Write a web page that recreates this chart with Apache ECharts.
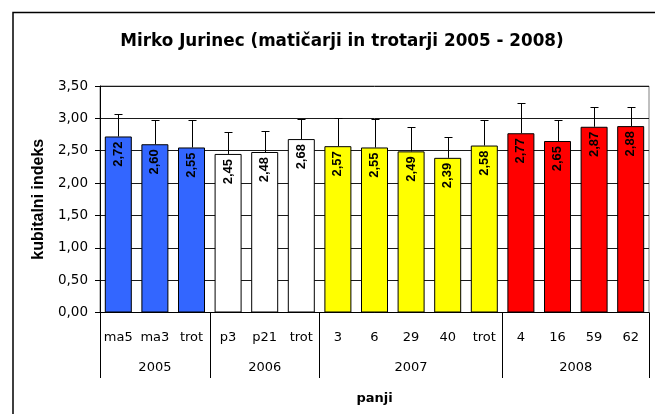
<!DOCTYPE html>
<html>
<head>
    <meta charset="utf-8">
    <title>Mirko Jurinec</title>
    <script src="https://cdn.jsdelivr.net/npm/echarts@6/dist/echarts.min.js"></script>
    <style>
        html, body { margin: 0; padding: 0; background: #ffffff; }
        #chart { width: 655px; height: 414px; }
    </style>
</head>
<body>
<div id="chart"></div>
<script>
    // podatki
    var panji = ['ma5', 'ma3', 'trot', 'p3', 'p21', 'trot', '3', '6', '29', '40', 'trot', '4', '16', '59', '62'];
    var leta = ['2005', '2006', '2007', '2008'];
    var stPanjev = [3, 3, 5, 4];          // koliko panjev v posameznem letu
    var barveLet = ['#3366FF', '#FFFFFF', '#FFFF00', '#FF0000'];
    var indeks = [2.72, 2.60, 2.55, 2.45, 2.48, 2.68, 2.57, 2.55, 2.49, 2.39, 2.58, 2.77, 2.65, 2.87, 2.88];
    var napaka = [0.34, 0.38, 0.43, 0.34, 0.33, 0.31, 0.44, 0.44, 0.37, 0.32, 0.40, 0.47, 0.33, 0.31, 0.30];
    var yTicks = [0, 0.5, 1, 1.5, 2, 2.5, 3, 3.5];

    var font = "'Liberation Sans', Arial, sans-serif";
    var siroka = "'DejaVu Sans', Verdana, sans-serif";   // sirsa pisava za vodoravna besedila

    // meje med leti in sredine skupin na drugi osi
    var meje = [0], sredine = [], barvePanjev = [];
    stPanjev.forEach(function (n, k) {
        var z = meje[meje.length - 1];
        sredine.push(z + n / 2);
        meje.push(z + n);
        for (var j = 0; j < n; j++) barvePanjev.push(barveLet[k]);
    });

    function vejica(v) {
        return v.toFixed(2).replace('.', ',');
    }

    var chart = echarts.init(document.getElementById('chart'), null, {renderer: 'canvas'});

    var option = {
        animation: false,
        backgroundColor: '#ffffff',
        textStyle: {fontFamily: siroka},
        title: {
            text: 'Mirko Jurinec (matičarji in trotarji 2005 - 2008)',
            left: 337, top: 28, textAlign: 'center',
            textStyle: {fontFamily: siroka, fontSize: 16.8, fontWeight: 'bold', color: '#000'}
        },
        graphic: [{
            type: 'rect',
            shape: {x: 13, y: 12.5, width: 700, height: 500},
            style: {fill: 'none', stroke: '#000', lineWidth: 1.5},
            silent: true
        }],
        grid: {
            left: 100, top: 86, width: 549, height: 226.5,
            show: true, borderColor: '#808080', borderWidth: 1, backgroundColor: '#fff'
        },
        xAxis: [{
            type: 'category',
            data: panji,
            boundaryGap: true,
            axisLine: {lineStyle: {color: '#000', width: 1}},
            axisTick: {length: 34, lineStyle: {color: '#000'}},
            axisLabel: {color: '#000', fontSize: 13, margin: 19, interval: 0, fontFamily: siroka}
        }, {
            type: 'value',
            min: 0, max: 15,
            position: 'bottom',
            name: 'panji',
            nameLocation: 'middle',
            nameGap: 80,
            nameTextStyle: {fontFamily: siroka, fontSize: 13, fontWeight: 'bold', color: '#000'},
            axisLine: {show: false},
            splitLine: {show: false},
            axisTick: {show: true, customValues: meje, length: 65.5, lineStyle: {color: '#000'}},
            axisLabel: {
                customValues: sredine, margin: 49, color: '#000', fontSize: 13, fontFamily: siroka,
                formatter: function (v) { return leta[sredine.indexOf(v)] || ''; }
            }
        }],
        yAxis: {
            type: 'value',
            min: yTicks[0], max: yTicks[yTicks.length - 1], interval: 0.5,
            name: 'kubitalni indeks',
            nameLocation: 'middle',
            nameGap: 50,
            nameTextStyle: {fontFamily: font, fontSize: 16, fontWeight: 'bold', color: '#000'},
            axisLine: {show: true, lineStyle: {color: '#000'}},
            axisTick: {show: true, length: 5, lineStyle: {color: '#000'}},
            axisLabel: {color: '#000', fontSize: 13.5, margin: 12, fontFamily: siroka, formatter: vejica},
            splitLine: {show: true, lineStyle: {color: '#1a1a1a', width: 1}}
        },
        series: [{
            type: 'bar',
            xAxisIndex: 0,
            barWidth: 27,
            data: indeks.map(function (v, i) {
                return {value: v, itemStyle: {color: barvePanjev[i]}};
            }),
            itemStyle: {borderColor: '#000', borderWidth: 1},
            label: {
                show: true, position: 'insideTop', distance: 5, rotate: 90,
                align: 'right', verticalAlign: 'middle',
                fontFamily: font, fontSize: 13, fontWeight: 'bold', color: '#000',
                formatter: function (p) { return vejica(p.value); }
            },
            z: 2
        }, {
            type: 'custom',
            xAxisIndex: 0,
            encode: {x: 0, y: [1, 2]},
            data: indeks.map(function (v, i) { return [i, v, v + napaka[i]]; }),
            renderItem: function (params, api) {
                var a = api.coord([api.value(0), api.value(1)]);
                var b = api.coord([api.value(0), api.value(2)]);
                var x = Math.round(a[0]) + 0.5;
                var yt = Math.round(b[1]) + 0.5;
                return {
                    type: 'group',
                    children: [{
                        type: 'line',
                        shape: {x1: x, y1: a[1], x2: x, y2: yt},
                        style: {stroke: '#000', lineWidth: 1}
                    }, {
                        type: 'line',
                        shape: {x1: x - 4, y1: yt, x2: x + 4, y2: yt},
                        style: {stroke: '#000', lineWidth: 1}
                    }]
                };
            },
            z: 5
        }]
    };

    chart.setOption(option);
</script>
</body>
</html>
